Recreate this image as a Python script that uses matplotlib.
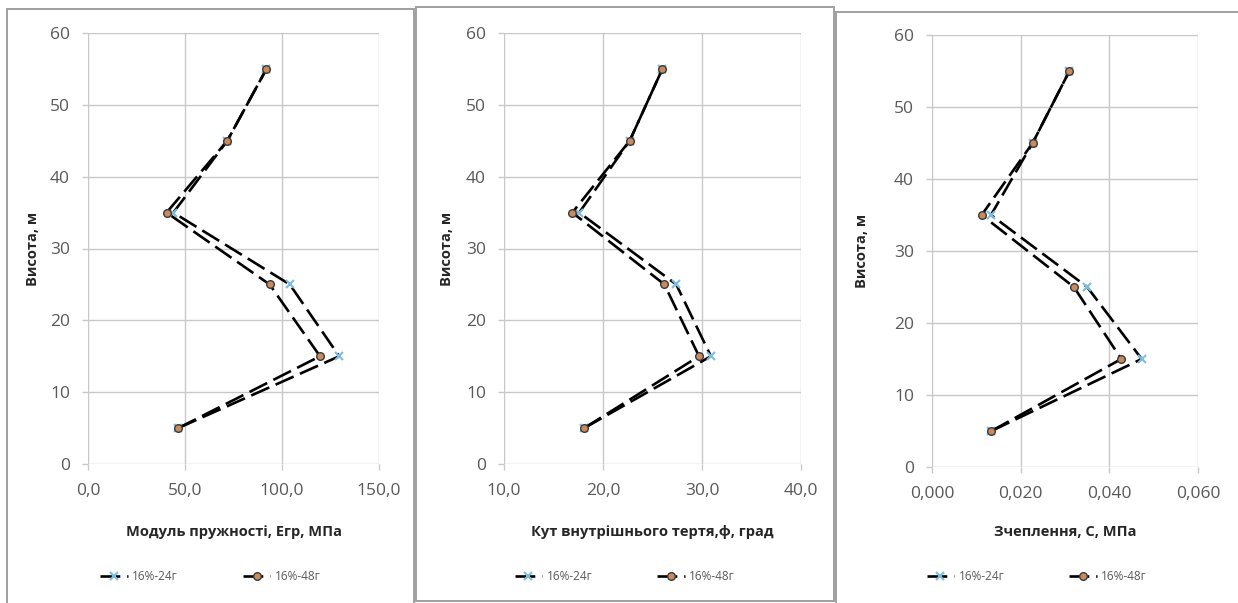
import matplotlib
matplotlib.use("Agg")
import matplotlib.pyplot as plt
from matplotlib.patches import Rectangle

plt.rcParams['font.family'] = ['Open Sans', 'DejaVu Sans']

# heights of the measuring points, m
heights = [5, 15, 25, 35, 45, 55]

# modulus of elasticity, MPa
e_24 = [46.5, 129.5, 104.0, 44.0, 71.8, 92.0]
e_48 = [46.5, 119.6, 93.6, 40.5, 71.8, 92.0]

# angle of internal friction, deg
phi_24 = [18.1, 30.9, 27.4, 17.6, 22.7, 26.0]
phi_48 = [18.1, 29.7, 26.2, 16.9, 22.7, 26.0]

# cohesion, MPa
c_24 = [0.0134, 0.0473, 0.0350, 0.0133, 0.0227, 0.0310]
c_48 = [0.0134, 0.0427, 0.0320, 0.0112, 0.0227, 0.0310]

series_names = ['16%-24г', '16%-48г']
y_label = 'Висота, м'
x_labels = ['Модуль пружності, Егр, МПа',
            'Кут внутрішнього тертя,ф, град',
            'Зчеплення, С, МПа']
x_ticks = [[0, 50, 100, 150], [10, 20, 30, 40], [0, 0.02, 0.04, 0.06]]
x_ticklabels = [['0,0', '50,0', '100,0', '150,0'],
                ['10,0', '20,0', '30,0', '40,0'],
                ['0,000', '0,020', '0,040', '0,060']]
y_ticks = [0, 10, 20, 30, 40, 50, 60]

W, H = 1238, 603
fig = plt.figure(figsize=(W / 100, H / 100), dpi=100)

# plot areas and chart frames in pixels (left, right, top, bottom)
plot_px = [(88, 379, 33, 464), (504, 801, 33, 464), (932, 1198, 35, 467)]
frame_px = [(7, 414, 9, 610), (416, 834, 7, 601), (836, 1250, 12, 610)]
ylabel_x = [33, 447, 862]

grid_c = '#c8c8c8'
text_c = '#595959'

data = [(e_24, e_48), (phi_24, phi_48), (c_24, c_48)]

for i in range(3):
    fx0, fx1, fy0, fy1 = frame_px[i]
    fig.patches.append(Rectangle((fx0 / W, 1 - fy1 / H), (fx1 - fx0) / W, (fy1 - fy0) / H,
                                 transform=fig.transFigure, fill=False,
                                 edgecolor='#a0a0a0', lw=1.4, zorder=0))

    l, r, t, b = plot_px[i]
    ax = fig.add_axes([l / W, 1 - b / H, (r - l) / W, (b - t) / H])
    s24, s48 = data[i]

    ax.plot(s24, heights, color='black', lw=1.9, dashes=(7.5, 2.6),
            marker='x', ms=5.5, mew=1.5, mec='#7cbde0', label=series_names[0], zorder=3)
    ax.plot(s48, heights, color='black', lw=1.9, dashes=(7.5, 2.6),
            marker='o', ms=5.5, mfc='#c98b5e', mec='#3a3a3a', mew=1.0,
            label=series_names[1], zorder=4)

    ax.set_xlim(x_ticks[i][0], x_ticks[i][-1])
    ax.set_ylim(0, 60)
    ax.set_xticks(x_ticks[i])
    ax.set_xticklabels(x_ticklabels[i])
    ax.set_yticks(y_ticks)
    ax.grid(True, color=grid_c, lw=1)
    ax.set_axisbelow(True)
    for s in ax.spines.values():
        s.set_visible(False)
    ax.tick_params(axis='both', length=4, width=1, color=grid_c, labelsize=12.5,
                   labelcolor=text_c)
    ax.tick_params(axis='x', pad=10)
    ax.tick_params(axis='y', pad=9)

    ax.set_xlabel(x_labels[i], fontsize=10.5, fontweight='bold', color='#262626')
    ax.xaxis.set_label_coords(0.5, (b - 532) / (b - t))
    ax.xaxis.label.set_va('center')
    ax.set_ylabel(y_label, fontsize=10.5, fontweight='bold', color='#262626')
    ax.yaxis.set_label_coords((ylabel_x[i] - l) / (r - l), 0.5)
    ax.yaxis.label.set_va('center')

    h, lab = ax.get_legend_handles_labels()
    fig.legend(h, lab, loc='center', ncol=2, frameon=False,
               bbox_to_anchor=((fx0 + min(fx1, W)) / 2 / W, 1 - 577 / H),
               fontsize=8.5, labelcolor=text_c, handlelength=2.3,
               handletextpad=0.4, columnspacing=5.5)

fig.savefig('out.png', dpi=100)
